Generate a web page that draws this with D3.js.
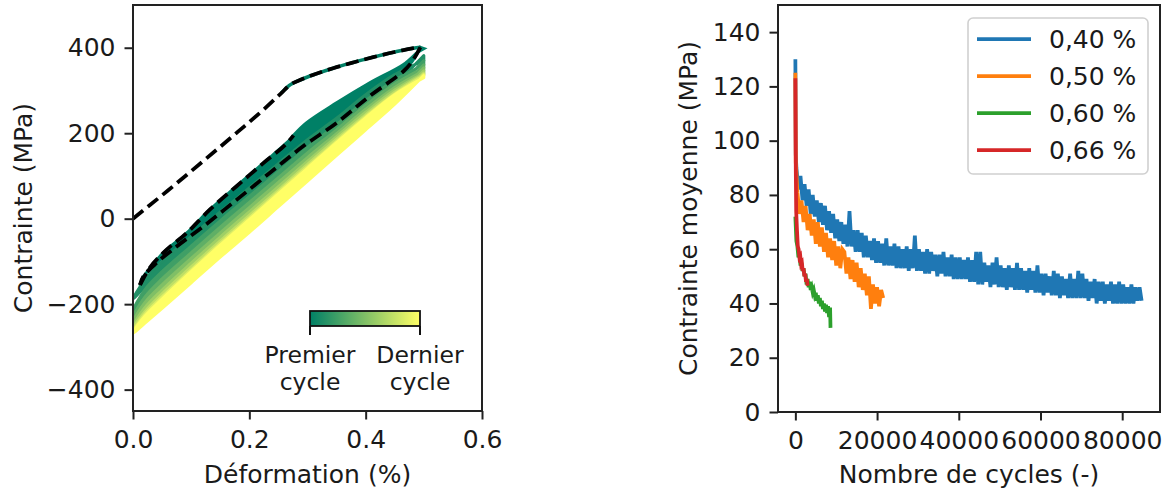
<!DOCTYPE html>
<html><head><meta charset="utf-8">
<script src="https://cdn.jsdelivr.net/npm/d3@7"></script>
<style>body{margin:0;background:#fff} svg{display:block} text{font-family:"DejaVu Sans",sans-serif;fill:#1a1a1a}</style>
</head><body><svg id="c" width="1171" height="494"></svg>
<script>
// ---------- LEFT PANEL DATA (strain %, stress MPa) ----------
const firstLoadStrain  = [0, 0.06, 0.12, 0.18, 0.23, 0.255, 0.27, 0.288, 0.315, 0.344, 0.38, 0.413, 0.45, 0.482, 0.494];
const firstLoadStress  = [0, 66, 134, 203, 262, 294, 313, 325, 339, 352, 366, 378, 390, 399, 401];
const firstUnloadStrain = [0.494, 0.48, 0.465, 0.407, 0.35, 0.293, 0.235, 0.178, 0.121, 0.075, 0.04, 0.018, 0.012];
const firstUnloadStress = [401, 368, 345, 287, 224, 170, 107, 44, -18, -65, -104, -135, -155];
const firstReloadStrain = [0.012, 0.023, 0.052, 0.092, 0.132, 0.178, 0.224, 0.27, 0.276];
const firstReloadStress = [-155, -127, -80, -34, 21, 76, 130, 185, 195];
const firstReloadEndStrain = [0.298, 0.35, 0.407, 0.465, 0.49, 0.5];
const firstReloadEndStress = [224, 271, 318, 361, 390, 398];

const strainGrid = [0, 0.02, 0.05, 0.1, 0.15, 0.2, 0.25, 0.3, 0.35, 0.4, 0.45, 0.5];
const unloadStress = [
  [-188, -160, -122, -68, -12, 42, 99, 155, 205, 262, 315, 382],
  [-215, -183, -146, -90, -33, 22, 80, 137, 190, 248, 302, 370],
  [-230, -200, -163, -106, -48, 8, 66, 124, 178, 237, 293, 360],
  [-241, -213, -177, -119, -61, -4, 55, 113, 169, 228, 285, 353],
  [-251, -225, -189, -130, -71, -14, 45, 104, 162, 221, 279, 346],
  [-258, -234, -198, -139, -80, -22, 37, 97, 156, 215, 274, 341],
  [-264, -240, -205, -146, -86, -28, 32, 92, 151, 211, 270, 338],
  [-268, -245, -210, -150, -90, -32, 28, 88, 148, 208, 268, 335]
];
const loadStress = [
  [-188, -144, -100, -42, 16, 72, 129, 185, 235, 290, 337, 370],
  [-215, -167, -124, -64, -5, 52, 110, 167, 220, 276, 324, 360],
  [-230, -184, -141, -80, -20, 38, 96, 154, 208, 265, 315, 353],
  [-241, -197, -155, -93, -33, 26, 85, 143, 199, 256, 307, 346],
  [-251, -209, -167, -104, -43, 16, 75, 134, 192, 249, 301, 341],
  [-258, -218, -176, -113, -52, 8, 67, 127, 186, 243, 296, 338],
  [-264, -224, -183, -120, -58, 2, 62, 122, 181, 239, 292, 335],
  [-268, -229, -188, -124, -62, -2, 58, 118, 178, 236, 290, 330]
];
const leftXTicks = [0, 0.2, 0.4, 0.6];
const leftYTicks = [-400, -200, 0, 200, 400];
const colorbarLabels = [["Premier", "cycle"], ["Dernier", "cycle"]];

// ---------- RIGHT PANEL DATA (cycles, mean stress MPa) ----------
const seriesNames = ["0,40 %", "0,50 %", "0,60 %", "0,66 %"];
const seriesColors = ["#1f77b4", "#ff7f0e", "#2ca02c", "#d62728"];
const blueHeadCycles = [0, 100];
const blueHeadStress = [130, 95];
const blueStep = 500, blueFirst = 250;
const blueStress = [
  90, 82, 87, 78, 84, 76, 82, 73, 80, 72,
  78, 70, 77, 69, 76, 67, 74, 66, 73, 64,
  71, 63, 70, 62, 69, 61, 74, 61, 67, 59,
  67, 59, 66, 57, 65, 57, 63, 56, 64, 55,
  63, 55, 62, 54, 64, 54, 61, 54, 62, 53,
  61, 53, 60, 53, 61, 52, 60, 53, 65, 52,
  60, 52, 59, 51, 60, 51, 59, 52, 58, 50,
  58, 51, 59, 50, 57, 50, 58, 49, 57, 49,
  57, 49, 56, 49, 57, 48, 56, 48, 59, 47,
  59, 47, 55, 48, 54, 46, 55, 47, 57, 46,
  54, 46, 53, 45, 54, 46, 53, 45, 55, 45,
  53, 45, 52, 44, 53, 45, 52, 44, 54, 44,
  51, 43, 51, 44, 50, 43, 52, 43, 51, 42,
  50, 43, 49, 42, 51, 42, 49, 42, 52, 42,
  51, 42, 49, 41, 48, 42, 49, 40, 48, 41,
  48, 40, 47, 41, 48, 40, 47, 40, 48, 40,
  47, 40, 46, 40, 47, 40, 46, 41, 46, 41
];
const orangeHeadCycles = [0, 100];
const orangeHeadStress = [125, 92];
const orangeStep = 500, orangeFirst = 500;
const orangeStress = [
  81, 73, 78, 70, 76, 67, 73, 65, 71, 62,
  70, 61, 68, 59, 66, 57, 64, 56, 63, 54,
  61, 53, 60, 59, 51, 57, 49, 56, 48, 55,
  46, 53, 45, 51, 43, 50, 38, 47, 40, 46,
  39, 45, 42
];
const greenStep = 250, greenFirst = 0;
const greenStress = [72, 63, 61, 57, 58, 54, 55, 52, 53, 50, 51, 47, 49, 46, 48, 45, 46, 44,
  45, 43, 44, 41, 43, 40, 42, 39, 41, 38, 40, 37, 39.5, 36.5, 39, 35, 38.5];
const greenTailCycles = [8600];
const greenTailStress = [31];
const redCycles = [0, 100, 200, 400, 600, 800, 1000, 1200, 1400, 1600, 1800, 2000, 2200, 2400, 2600, 2800, 3000];
const redStress = [123, 90, 74, 67, 61, 60, 57, 57.5, 54.5, 55, 52, 53, 50, 51, 48, 49, 46.5];
const rightXTicks = [0, 20000, 40000, 60000, 80000];
const rightYTicks = [0, 20, 40, 60, 80, 100, 120, 140];

// ---------- DRAWING ----------
const svg = d3.select("#c");
const FS = 25;
const summer = t => d3.rgb(255 * t, 255 * (0.5 + 0.5 * t), 0.4 * 255);

function styleAxis(g) {
  g.select(".domain").remove();
  g.selectAll(".tick line").attr("stroke", "#222").attr("stroke-width", 2);
  g.selectAll(".tick text").attr("font-size", FS).attr("fill", "#1a1a1a")
    .attr("font-family", "DejaVu Sans");
}

// Left panel
const L = {x0: 133, x1: 482, y0: 5, y1: 411};
const lx = d3.scaleLinear().domain([0, 0.6]).range([L.x0, L.x1]);
const ly = d3.scaleLinear().domain([-450, 500]).range([L.y1, L.y0]);
svg.append("clipPath").attr("id", "clipL").append("rect")
  .attr("x", L.x0).attr("y", L.y0).attr("width", L.x1 - L.x0).attr("height", L.y1 - L.y0);
const gL = svg.append("g").attr("clip-path", "url(#clipL)");
const line = d3.line().x(d => lx(d[0])).y(d => ly(d[1])).curve(d3.curveMonotoneX);
const lineFree = d3.line().x(d => lx(d[0])).y(d => ly(d[1])).curve(d3.curveCatmullRom.alpha(0.5));
const zip = (a, b) => a.map((v, i) => [v, b[i]]);

const nC = unloadStress.length;
// cycle 0
const c0col = summer(0);
const c0unload = zip(firstUnloadStrain, firstUnloadStress);
const c0reload = zip(firstReloadStrain, firstReloadStress).concat(zip(firstReloadEndStrain, firstReloadEndStress));
gL.append("path").attr("d", lineFree(c0unload.concat(c0reload.slice(1))) + "Z")
  .attr("fill", c0col).attr("stroke", c0col).attr("stroke-width", 3);
const knee = zip(firstLoadStrain, firstLoadStress).slice(5);
gL.append("path").attr("d", line(knee)).attr("fill", "none").attr("stroke", c0col).attr("stroke-width", 3.5);
// subsequent cycles
for (let k = 0; k < nC; k++) {
  const col = summer((k + 1) / nC);
  const un = strainGrid.map((e, i) => [e, unloadStress[k][i]]).reverse();
  const ld = strainGrid.map((e, i) => [e, loadStress[k][i]]);
  gL.append("path").attr("d", lineFree(un.concat(ld.slice(1))) + "Z")
    .attr("fill", col).attr("stroke", col).attr("stroke-width", 3).attr("stroke-linejoin", "round");
}
// dashed first cycle
const dash = (p, gen) => gL.append("path").attr("d", gen(p)).attr("fill", "none")
  .attr("stroke", "#000").attr("stroke-width", 3.8).attr("stroke-dasharray", "13,6");
dash(zip(firstLoadStrain, firstLoadStress), line);
dash(c0unload, lineFree);
dash(zip(firstReloadStrain, firstReloadStress), line);

svg.append("rect").attr("x", L.x0).attr("y", L.y0).attr("width", L.x1 - L.x0).attr("height", L.y1 - L.y0)
  .attr("fill", "none").attr("stroke", "#222").attr("stroke-width", 2);
const axLX = svg.append("g").attr("transform", `translate(0,${L.y1})`)
  .call(d3.axisBottom(lx).tickValues(leftXTicks).tickFormat(d3.format(".1f")).tickSize(8.5).tickPadding(11));
styleAxis(axLX);
const axLY = svg.append("g").attr("transform", `translate(${L.x0},0)`)
  .call(d3.axisLeft(ly).tickValues(leftYTicks).tickFormat(d => d < 0 ? "\u2212" + Math.abs(d) : d).tickSize(8.5).tickPadding(9));
styleAxis(axLY);
svg.append("text").attr("x", (L.x0 + L.x1) / 2).attr("y", 483).attr("text-anchor", "middle")
  .attr("font-size", FS).text("Déformation (%)");
svg.append("text").attr("transform", `translate(32,${(L.y0 + L.y1) / 2}) rotate(-90)`)
  .attr("text-anchor", "middle").attr("font-size", FS).text("Contrainte (MPa)");

// colorbar
const cb = d3.scaleLinear().domain([0, 1]).range([310, 420]);
const grad = svg.append("defs").append("linearGradient").attr("id", "summer");
d3.range(0, 1.0001, 0.1).forEach(t => grad.append("stop").attr("offset", t).attr("stop-color", summer(t)));
svg.append("rect").attr("x", cb(0)).attr("y", 311).attr("width", cb(1) - cb(0)).attr("height", 15)
  .attr("fill", "url(#summer)").attr("stroke", "#111").attr("stroke-width", 1.8);
[0, 1].forEach((t, i) => {
  svg.append("line").attr("x1", cb(t)).attr("x2", cb(t)).attr("y1", 326).attr("y2", 335)
    .attr("stroke", "#111").attr("stroke-width", 2);
  colorbarLabels[i].forEach((s, j) => svg.append("text").attr("x", cb(t)).attr("y", 363 + j * 27)
    .attr("text-anchor", "middle").attr("font-size", 23.5).text(s));
});

// Right panel
const R = {x0: 778, x1: 1160, y0: 5, y1: 412};
const rx = d3.scaleLinear().domain([-4250, 89250]).range([R.x0, R.x1]);
const ry = d3.scaleLinear().domain([0, 150]).range([R.y1, R.y0]);
svg.append("clipPath").attr("id", "clipR").append("rect")
  .attr("x", R.x0).attr("y", R.y0).attr("width", R.x1 - R.x0).attr("height", R.y1 - R.y0);
const gR = svg.append("g").attr("clip-path", "url(#clipR)");
const rline = d3.line().x(d => rx(d[0])).y(d => ry(d[1]));
const stepped = (first, step, vals) => vals.map((v, i) => [first + i * step, v]);
const series = [
  zip(blueHeadCycles, blueHeadStress).concat(stepped(blueFirst, blueStep, blueStress)),
  zip(orangeHeadCycles, orangeHeadStress).concat(stepped(orangeFirst, orangeStep, orangeStress)),
  stepped(greenFirst, greenStep, greenStress).concat(zip(greenTailCycles, greenTailStress)),
  zip(redCycles, redStress)
];
series.forEach((s, i) => gR.append("path").attr("d", rline(s)).attr("fill", "none")
  .attr("stroke", seriesColors[i]).attr("stroke-width", 3.75).attr("stroke-linejoin", "miter"));
svg.append("rect").attr("x", R.x0).attr("y", R.y0).attr("width", R.x1 - R.x0).attr("height", R.y1 - R.y0)
  .attr("fill", "none").attr("stroke", "#222").attr("stroke-width", 2);
const axRX = svg.append("g").attr("transform", `translate(0,${R.y1})`)
  .call(d3.axisBottom(rx).tickValues(rightXTicks).tickFormat(d3.format("d")).tickSize(8.5).tickPadding(11));
styleAxis(axRX);
const axRY = svg.append("g").attr("transform", `translate(${R.x0},0)`)
  .call(d3.axisLeft(ry).tickValues(rightYTicks).tickSize(8.5).tickPadding(9));
styleAxis(axRY);
svg.append("text").attr("x", (R.x0 + R.x1) / 2).attr("y", 483).attr("text-anchor", "middle")
  .attr("font-size", FS).text("Nombre de cycles (-)");
svg.append("text").attr("transform", `translate(697,${(R.y0 + R.y1) / 2}) rotate(-90)`)
  .attr("text-anchor", "middle").attr("font-size", FS).text("Contrainte moyenne (MPa)");

// legend
const lg = svg.append("g");
lg.append("rect").attr("x", 968).attr("y", 18).attr("width", 180).attr("height", 156).attr("rx", 5)
  .attr("fill", "#fff").attr("fill-opacity", 0.8).attr("stroke", "#d0d0d0").attr("stroke-width", 1.6);
seriesNames.forEach((n, i) => {
  const yy = 39 + i * 37;
  lg.append("line").attr("x1", 977).attr("x2", 1031).attr("y1", yy).attr("y2", yy)
    .attr("stroke", seriesColors[i]).attr("stroke-width", 3.75);
  lg.append("text").attr("x", 1049).attr("y", yy + 9).attr("font-size", FS).text(n);
});
</script></body></html>
